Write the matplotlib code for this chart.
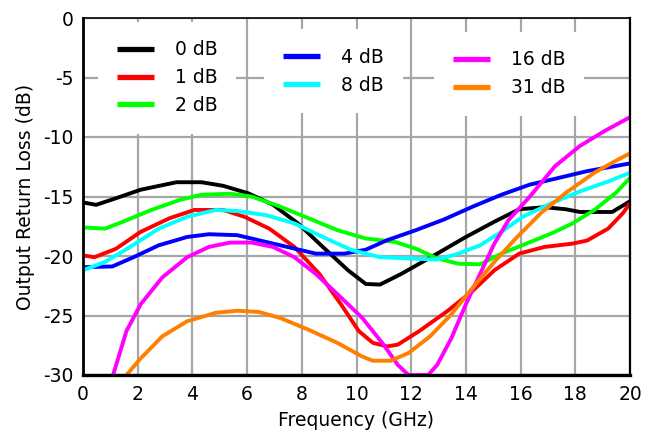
import matplotlib
matplotlib.use("Agg")
import matplotlib.pyplot as plt
from matplotlib.lines import Line2D

# Output return loss vs frequency, one trace per attenuation state
freq_0db = [0.0, 0.48, 1.2, 2.11, 3.42, 4.33, 5.12, 6.03, 6.95, 7.86, 8.77, 9.69,
            10.34, 10.86, 11.64, 12.95, 14.0, 15.04, 15.95, 16.87, 17.65, 18.17, 19.35, 20.0]
rl_0db = [-15.5, -15.7, -15.15, -14.43, -13.8, -13.8, -14.1, -14.72, -15.7, -17.26, -19.24, -21.2,
          -22.35, -22.4, -21.5, -19.8, -18.4, -17.12, -16.07, -15.9, -16.07, -16.3, -16.3, -15.4]

freq_1db = [0.0, 0.42, 1.2, 2.11, 3.16, 4.07, 5.12, 5.9, 6.81, 7.73, 8.64, 9.43, 10.08,
            10.6, 11.12, 11.51, 12.3, 13.34, 14.26, 15.04, 15.95, 16.87, 17.9, 18.43, 19.2, 19.74, 20.0]
rl_1db = [-19.95, -20.1, -19.4, -17.97, -16.83, -16.13, -16.13, -16.7, -17.7, -19.24, -21.5, -24.05, -26.3,
          -27.3, -27.6, -27.45, -26.3, -24.6, -22.9, -21.2, -19.8, -19.24, -18.96, -18.7, -17.7, -16.4, -15.56]

freq_2db = [0.0, 0.81, 1.46, 2.5, 3.55, 4.33, 5.38, 6.16, 7.2, 8.25, 9.3, 10.34, 11.38,
            12.17, 12.95, 13.73, 14.52, 15.3, 16.21, 17.13, 17.9, 18.7, 19.48, 20.0]
rl_2db = [-17.6, -17.7, -17.12, -16.13, -15.28, -14.85, -14.77, -15.0, -15.84, -16.83, -17.83, -18.53, -18.8,
          -19.38, -20.2, -20.65, -20.7, -19.8, -18.96, -18.1, -17.26, -16.13, -14.7, -13.44]

freq_4db = [0.0, 1.07, 1.85, 2.77, 3.81, 4.6, 5.64, 6.42, 7.47, 8.51, 9.56, 10.34, 11.12,
            12.17, 13.21, 14.26, 15.3, 16.34, 17.39, 18.43, 20.0]
rl_4db = [-20.94, -20.88, -20.1, -19.1, -18.4, -18.17, -18.25, -18.67, -19.24, -19.8, -19.8, -19.47, -18.67,
          -17.83, -16.92, -15.84, -14.85, -14.0, -13.44, -12.87, -12.22]

freq_8db = [0.0, 0.81, 1.72, 2.77, 3.81, 4.86, 5.64, 6.68, 7.73, 8.77, 9.82, 10.86, 11.9,
            12.95, 13.73, 14.52, 15.3, 16.08, 17.13, 18.17, 19.22, 20.0]
rl_8db = [-21.2, -20.5, -19.24, -17.7, -16.7, -16.13, -16.22, -16.56, -17.26, -18.4, -19.5, -20.1, -20.2,
          -20.3, -19.8, -19.1, -17.97, -16.7, -15.56, -14.57, -13.72, -13.0]

freq_16db = [1.1, 1.59, 2.11, 2.9, 3.81, 4.6, 5.38, 6.16, 6.95, 7.73, 8.51, 9.3, 10.21, 10.99,
             11.51, 11.9, 12.62, 12.95, 13.47, 14.0, 14.52, 15.04, 15.56, 16.34, 17.26, 18.17, 19.09, 20.0]
rl_16db = [-30.0, -26.3, -24.05, -21.8, -20.1, -19.24, -18.87, -18.87, -19.24, -20.1, -21.5, -23.2, -25.2, -27.45,
           -29.15, -30.0, -30.0, -29.15, -26.9, -24.05, -21.5, -18.96, -16.98, -15.0, -12.45, -10.75, -9.47, -8.34]

freq_31db = [1.59, 2.11, 2.9, 3.81, 4.86, 5.64, 6.42, 7.2, 8.25, 9.3, 10.21, 10.6, 11.25, 11.9,
             12.69, 13.47, 14.26, 15.04, 15.82, 16.74, 17.65, 18.7, 19.48, 20.0]
rl_31db = [-30.0, -28.6, -26.75, -25.48, -24.77, -24.6, -24.7, -25.2, -26.2, -27.3, -28.45, -28.8, -28.8, -28.16,
           -26.75, -24.9, -22.63, -20.5, -18.53, -16.4, -14.7, -13.0, -12.0, -11.37]

labels = ["0 dB", "1 dB", "2 dB", "4 dB", "8 dB", "16 dB", "31 dB"]
colors = ["#000000", "#ff0000", "#00ff00", "#0000ff", "#00ffff", "#ff00ff", "#ff8000"]
series = [(freq_0db, rl_0db), (freq_1db, rl_1db), (freq_2db, rl_2db), (freq_4db, rl_4db),
          (freq_8db, rl_8db), (freq_16db, rl_16db), (freq_31db, rl_31db)]

x_ticks = list(range(0, 21, 2))
y_ticks = [0, -5, -10, -15, -20, -25, -30]

plt.rcParams["font.family"] = ["DejaVu Sans"]
FS = 13.5

fig = plt.figure(figsize=(6.56, 4.37), dpi=100)
ax = fig.add_axes([83 / 656, 1 - 375 / 437, 547 / 656, 357 / 437])

for (fx, fy), c in zip(series, colors):
    ax.plot(fx, fy, color=c, lw=2.8, solid_capstyle="butt", solid_joinstyle="round",
            clip_on=False, zorder=3)

ax.set_xlim(0, 20)
ax.set_ylim(-30, 0)
ax.set_xticks(x_ticks)
ax.set_yticks(y_ticks)
ax.set_yticklabels([str(v) for v in y_ticks])
ax.tick_params(axis="both", length=0, labelsize=FS, pad=7)
ax.grid(True, color="#a6a6a6", lw=1.6, zorder=0)
ax.set_axisbelow(True)

ax.set_xlabel("Frequency (GHz)", fontsize=FS, labelpad=5)
ax.set_ylabel("Output Return Loss (dB)", fontsize=FS, labelpad=6)

for side, w in (("left", 2.0), ("bottom", 2.4), ("right", 1.6), ("top", 1.2)):
    ax.spines[side].set_linewidth(w)
    ax.spines[side].set_color("black")
    ax.spines[side].set_zorder(5)

# Legend split into three columns, each on its own white patch
groups = [([0, 1, 2], (0.027, 0.990)), ([3, 4], (0.331, 0.969)), ([5, 6], (0.642, 0.962))]
legends = []
for idx, anchor in groups:
    handles = [Line2D([], [], color=colors[i], lw=3.8, solid_capstyle="butt") for i in idx]
    leg = ax.legend(handles, [labels[i] for i in idx], loc="upper left",
                    bbox_to_anchor=anchor, frameon=True, fancybox=False,
                    facecolor="white", edgecolor="none", framealpha=1.0,
                    fontsize=FS, handlelength=2.0, handletextpad=1.1,
                    labelspacing=0.47, borderpad=1.0, borderaxespad=0.0)
    leg.set_zorder(2)
    legends.append(leg)
for leg in legends[:-1]:
    ax.add_artist(leg)

fig.savefig("out.png", dpi=100, facecolor="white")
